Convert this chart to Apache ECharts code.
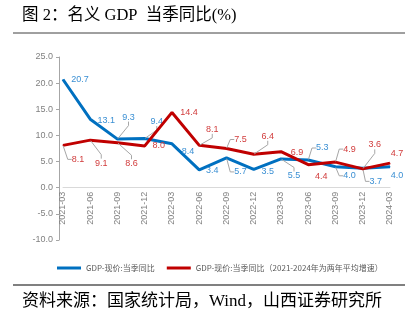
<!DOCTYPE html>
<html><head><meta charset="utf-8">
<script src="https://cdn.jsdelivr.net/npm/echarts@6/dist/echarts.min.js"></script>
<style>html,body{margin:0;padding:0;background:#fff}#c{width:415px;height:324px}</style>
</head><body><div id="c"></div>
<script>
// ---- data ----
const categories = ['2021-03','2021-06','2021-09','2021-12','2022-03','2022-06','2022-09','2022-12','2023-03','2023-06','2023-09','2023-12','2024-03'];
const nominalGdp = [20.7, 13.1, 9.3, 9.4, 8.4, 3.4, 5.7, 3.5, 5.5, 5.3, 4.0, 3.7, 4.0];
const nominalGdpAvg = [8.1, 9.1, 8.6, 8.0, 14.4, 8.1, 7.5, 6.4, 6.9, 4.4, 4.9, 3.6, 4.7];
const seriesNames = ['GDP-现价:当季同比', 'GDP-现价:当季同比（2021-2024年为两年平均增速）'];
const yMin = -10, yMax = 25, yStep = 5;

// ---- label placement (style only) ----
const blueOffsets = [[17,0],[16,1],[11,-22],[12,-17],[16,8],[13,1],[14,14],[14,2],[13,17],[14,-12],[14,9],[13,13],[7,9]];
const blueLeader  = [0,0,1,1,0,0,1,0,1,1,1,1,0];
const redOffsets  = [[15,14],[11,23],[14,21],[14,0],[17,0],[13,-16],[14,-9],[14,-18],[16,1],[13,12],[14,-13],[12,-24],[7,-10]];
const redLeader   = [1,1,1,0,0,1,1,1,0,0,1,1,0];

const labelFont = "'Liberation Sans Narrow','Liberation Sans',Arial,sans-serif";
const cjk = "'Liberation Serif','Noto Sans CJK SC',serif";

const gridTop = 57, gridBottom = 84, chartH = 324;
const gridH = chartH - gridTop - gridBottom;
const zeroLift = gridH * (0 - yMin) / (yMax - yMin);

function buildData(values, leaders) {
  return values.map((v, i) => ({
    value: v,
    labelLine: { show: !!leaders[i], length2: 4, lineStyle: { color: '#A6A6A6', width: 1 } }
  }));
}

const chart = echarts.init(document.getElementById('c'), null, { renderer: 'canvas' });
chart.setOption({
  animation: false,
  backgroundColor: '#fff',
  grid: { left: 63, right: 25, top: gridTop, bottom: gridBottom },
  legend: {
    bottom: 47, left: 52,
    icon: 'rect', itemWidth: 24, itemHeight: 3, itemGap: 12,
    textStyle: { fontSize: 8, color: '#595959', fontFamily: "'Noto Sans CJK SC',sans-serif" },
    data: seriesNames
  },
  xAxis: {
    type: 'category', data: categories, boundaryGap: false,
    offset: -zeroLift,
    axisLine: { onZero: false, lineStyle: { color: '#D9D9D9', width: 1 } },
    axisTick: { show: false },
    axisLabel: { rotate: 90, fontSize: 9, color: '#808080', margin: 4, interval: 0, fontFamily: labelFont }
  },
  yAxis: {
    type: 'value', min: yMin, max: yMax, interval: yStep, offset: 4,
    axisLine: { show: true, lineStyle: { color: '#A6A6A6' } },
    axisTick: { show: true, length: 3, lineStyle: { color: '#A6A6A6' } },
    splitLine: { show: false },
    axisLabel: { fontSize: 9, color: '#808080', margin: 6, fontFamily: labelFont, formatter: v => v.toFixed(1) }
  },
  series: [
    {
      name: seriesNames[0], type: 'line', data: buildData(nominalGdp, blueLeader),
      symbol: 'circle', symbolSize: 1, showSymbol: true,
      lineStyle: { color: '#0070C0', width: 3 }, itemStyle: { color: '#0070C0' },
      label: { show: true, position: 'inside', fontSize: 9, color: '#3A8FD3', fontFamily: labelFont, formatter: p => p.value.toFixed(1) },
      labelLayout: p => ({ dx: blueOffsets[p.dataIndex][0], dy: blueOffsets[p.dataIndex][1] }),
      z: 2
    },
    {
      name: seriesNames[1], type: 'line', data: buildData(nominalGdpAvg, redLeader),
      symbol: 'circle', symbolSize: 1, showSymbol: true,
      lineStyle: { color: '#C00000', width: 3 }, itemStyle: { color: '#C00000' },
      label: { show: true, position: 'inside', fontSize: 9, color: '#D13B3B', fontFamily: labelFont, formatter: p => p.value.toFixed(1) },
      labelLayout: p => ({ dx: redOffsets[p.dataIndex][0], dy: redOffsets[p.dataIndex][1] }),
      z: 3
    }
  ],
  graphic: [
    { type: 'text', left: 22, top: 7, style: { text: '图 2：名义 GDP  当季同比(%)', fontSize: 16.5, fill: '#000', fontFamily: cjk } },
    { type: 'line', shape: { x1: 13, y1: 33, x2: 405, y2: 33 }, style: { stroke: '#404040', lineWidth: 1 } },
    { type: 'line', shape: { x1: 13, y1: 285, x2: 405, y2: 285 }, style: { stroke: '#808080', lineWidth: 2 } },
    { type: 'text', left: 22, top: 293, style: { text: '资料来源：国家统计局，Wind，山西证券研究所', fontSize: 17, fill: '#000', fontFamily: cjk } }
  ]
});
</script>
</body></html>
